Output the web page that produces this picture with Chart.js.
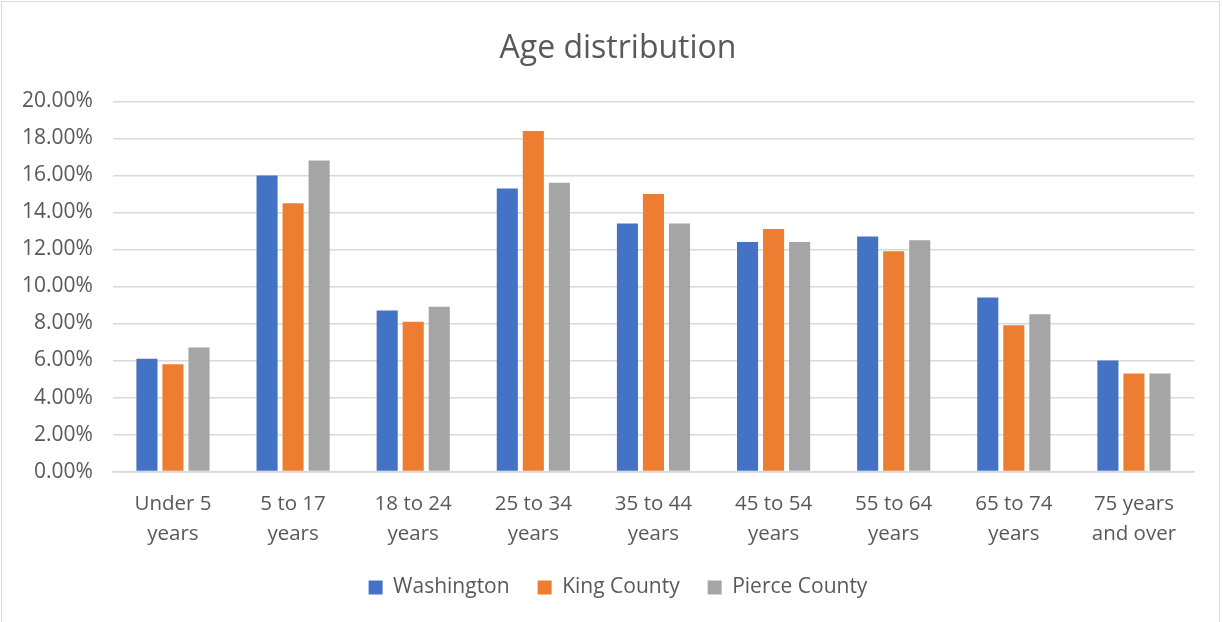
<!DOCTYPE html>
<html>
<head>
<meta charset="utf-8">
<script src="https://cdn.jsdelivr.net/npm/chart.js@4"></script>
<style>
  html, body { margin: 0; padding: 0; background: #fff; }
  .wrap { position: absolute; left: 1px; top: 1px; width: 1219px; height: 640px; border: 1px solid #d9d9d9; box-sizing: border-box; }
  canvas { display: block; }
</style>
</head>
<body>
<div class="wrap"><canvas id="chart" width="1219" height="620"></canvas></div>
<script>
'use-strict'

const categories = [
    ['Under 5', 'years'],
    ['5 to 17', 'years'],
    ['18 to 24', 'years'],
    ['25 to 34', 'years'],
    ['35 to 44', 'years'],
    ['45 to 54', 'years'],
    ['55 to 64', 'years'],
    ['65 to 74', 'years'],
    ['75 years', 'and over']
]

const washington = [6.1, 16.0, 8.7, 15.3, 13.4, 12.4, 12.7, 9.4, 6.0]
const kingCounty = [5.8, 14.5, 8.1, 18.4, 15.0, 13.1, 11.9, 7.9, 5.3]
const pierceCounty = [6.7, 16.8, 8.9, 15.6, 13.4, 12.4, 12.5, 8.5, 5.3]

const font = '"Open Sans", "Liberation Sans", sans-serif'
const grey = '#595959'

const ctx = document.querySelector('#chart').getContext('2d')

const makeSet = (label, data, color) => ({
    label: label,
    data: data,
    backgroundColor: color,
    borderWidth: 0,
    categoryPercentage: 0.65,
    barPercentage: 0.81
})

const chart = new Chart(ctx, {
    type: 'bar',
    data: {
        labels: categories,
        datasets: [
            makeSet('Washington', washington, '#4472c4'),
            makeSet('King County', kingCounty, '#ed7d31'),
            makeSet('Pierce County', pierceCounty, '#a5a5a5')
        ]
    },
    options: {
        responsive: false,
        animation: false,
        layout: { padding: { left: 13, right: 0, top: 8, bottom: 14 } },
        plugins: {
            title: {
                display: true,
                text: 'Age distribution',
                color: grey,
                font: { family: font, size: 32, weight: 'normal' },
                padding: { top: 20, bottom: 33 }
            },
            legend: {
                position: 'bottom',
                labels: {
                    color: grey,
                    font: { family: font, size: 21 },
                    boxWidth: 14,
                    boxHeight: 14,
                    padding: 28
                }
            },
            tooltip: { enabled: false }
        },
        scales: {
            x: {
                grid: { display: false },
                border: { color: '#d9d9d9', width: 1.5 },
                ticks: {
                    color: grey,
                    font: { family: font, size: 20.5, lineHeight: 1.45 },
                    maxRotation: 0,
                    padding: 10
                },
                // labels sit closer to the legend than chart.js leaves room for
                afterFit: axis => { axis.height -= 10 }
            },
            y: {
                min: 0,
                max: 20,
                grid: { color: '#d9d9d9', lineWidth: 1.5, drawTicks: false },
                border: { display: false },
                ticks: {
                    stepSize: 2,
                    color: grey,
                    font: { family: font, size: 21 },
                    padding: 20,
                    callback: v => v.toFixed(2) + '%'
                },
                afterFit: axis => { axis.width -= 13 }
            },
            // empty right gutter so the legend stays centred like the original
            gutter: {
                type: 'linear',
                position: 'right',
                grid: { display: false },
                border: { display: false },
                ticks: { display: false },
                afterFit: axis => { axis.width = 27 }
            }
        }
    }
})
</script>
</body>
</html>
